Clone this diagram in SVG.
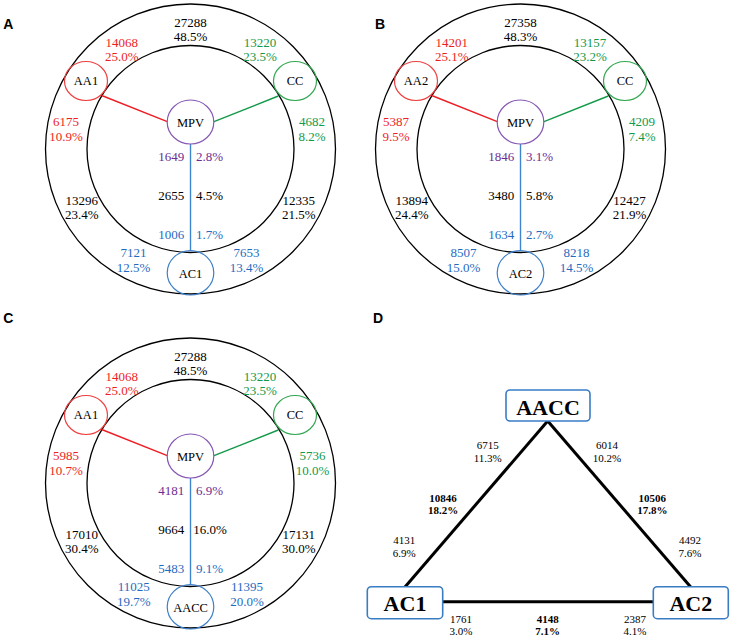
<svg xmlns="http://www.w3.org/2000/svg" width="732" height="639" viewBox="0 0 732 639">
<defs>
<style>
.ring{fill:none;stroke:#000;stroke-width:1.3}
.t{font-family:"Liberation Serif","Times New Roman",serif;font-size:13px;text-anchor:middle}
.s{text-anchor:start}
.e{text-anchor:end}
.lb{font-family:"Liberation Serif","Times New Roman",serif;font-size:12.5px;text-anchor:middle;fill:#000}
.pl{font-family:"Liberation Sans",Arial,sans-serif;font-size:14px;font-weight:bold;fill:#000}
.r{fill:#ee1d23}.g{fill:#13994a}.b{fill:#1f6bbf}.p{fill:#6c2d91}.k{fill:#000}
.nr{fill:none;stroke:#ee4040;stroke-width:1.2}
.ng{fill:none;stroke:#33a853;stroke-width:1.2}
.np{fill:none;stroke:#8657b5;stroke-width:1.2}
.nb{fill:none;stroke:#3d7fc8;stroke-width:1.2}
.box{fill:#fff;stroke:#3a7dc5;stroke-width:1.6}
.bt{font-family:"Liberation Serif","Times New Roman",serif;font-size:22px;font-weight:bold;text-anchor:middle;fill:#000}
.dt{font-family:"Liberation Serif","Times New Roman",serif;font-size:11px;text-anchor:middle;fill:#000}
.db{font-weight:bold}
.edge{stroke:#000;stroke-width:3;fill:none}
</style>
</defs>

<rect width="732" height="639" fill="#fff"/>

<!-- Panel labels -->
<text class="pl" x="3.3" y="29.3">A</text>
<text class="pl" x="375" y="29.3">B</text>
<text class="pl" x="3.3" y="322.7">C</text>
<text class="pl" x="373" y="322.7">D</text>

<!-- ===== Panel A ===== -->
<g id="panelA">
  <circle class="ring" cx="190.5" cy="149" r="145"/>
  <circle class="ring" cx="190.5" cy="149" r="103.5"/>
  <g id="A-connectors">
    <line x1="101.7" y1="95.5" x2="167.3" y2="121.7" stroke="#ee1d23" stroke-width="1.4"/>
    <line x1="214" y1="121.7" x2="278.3" y2="96" stroke="#13994a" stroke-width="1.4"/>
    <line x1="190.5" y1="144" x2="190.5" y2="250.7" stroke="#3d85d0" stroke-width="1.4"/>
  </g>
  <g id="A-AA1"><ellipse class="nr" cx="86" cy="81" rx="21.5" ry="19.5"/><text class="lb" x="86" y="85">AA1</text></g>
  <g id="A-CC"><ellipse class="ng" cx="295" cy="81" rx="21.5" ry="19.5"/><text class="lb" x="295" y="85">CC</text></g>
  <g id="A-MPV"><ellipse class="np" cx="190.5" cy="122" rx="23.3" ry="22"/><text class="lb" x="190.5" y="126.5">MPV</text></g>
  <g id="A-AC1"><ellipse class="nb" cx="190.5" cy="272.8" rx="23.3" ry="22.2"/><text class="lb" x="190.5" y="277.5">AC1</text></g>
  <g id="A-values">
    <text class="t k" x="190.5" y="26.5">27288</text><text class="t k" x="190.5" y="40.8">48.5%</text>
    <text class="t r" x="121.7" y="46.7">14068</text><text class="t r" x="121.7" y="61">25.0%</text>
    <text class="t g" x="260" y="46.7">13220</text><text class="t g" x="260" y="61">23.5%</text>
    <text class="t r" x="66" y="126.3">6175</text><text class="t r" x="66" y="140.6">10.9%</text>
    <text class="t g" x="312" y="126.3">4682</text><text class="t g" x="312" y="140.6">8.2%</text>
    <text class="t e p" x="184.3" y="160.7">1649</text><text class="t s p" x="196" y="160.7">2.8%</text>
    <text class="t e k" x="184.3" y="200">2655</text><text class="t s k" x="196" y="200">4.5%</text>
    <text class="t e b" x="184.3" y="239.3">1006</text><text class="t s b" x="196" y="239.3">1.7%</text>
    <text class="t k" x="81.7" y="205">13296</text><text class="t k" x="81.7" y="219.3">23.4%</text>
    <text class="t k" x="298.7" y="205">12335</text><text class="t k" x="298.7" y="219.3">21.5%</text>
    <text class="t b" x="133.5" y="257.3">7121</text><text class="t b" x="133.5" y="271.7">12.5%</text>
    <text class="t b" x="246.5" y="257.3">7653</text><text class="t b" x="246.5" y="271.7">13.4%</text>
  </g>
</g>

<!-- ===== Panel B ===== -->
<g id="panelB" transform="translate(330,0)">
  <circle class="ring" cx="190.5" cy="149" r="145"/>
  <circle class="ring" cx="190.5" cy="149" r="103.5"/>
  <g id="B-connectors">
    <line x1="101.7" y1="95.5" x2="167.3" y2="121.7" stroke="#ee1d23" stroke-width="1.4"/>
    <line x1="214" y1="121.7" x2="278.3" y2="96" stroke="#13994a" stroke-width="1.4"/>
    <line x1="190.5" y1="144" x2="190.5" y2="250.7" stroke="#3d85d0" stroke-width="1.4"/>
  </g>
  <g id="B-AA2"><ellipse class="nr" cx="86" cy="81" rx="21.5" ry="19.5"/><text class="lb" x="86" y="85">AA2</text></g>
  <g id="B-CC"><ellipse class="ng" cx="295" cy="81" rx="21.5" ry="19.5"/><text class="lb" x="295" y="85">CC</text></g>
  <g id="B-MPV"><ellipse class="np" cx="190.5" cy="122" rx="23.3" ry="22"/><text class="lb" x="190.5" y="126.5">MPV</text></g>
  <g id="B-AC2"><ellipse class="nb" cx="190.5" cy="272.8" rx="23.3" ry="22.2"/><text class="lb" x="190.5" y="277.5">AC2</text></g>
  <g id="B-values">
    <text class="t k" x="190.5" y="26.5">27358</text><text class="t k" x="190.5" y="40.8">48.3%</text>
    <text class="t r" x="121.7" y="46.7">14201</text><text class="t r" x="121.7" y="61">25.1%</text>
    <text class="t g" x="260" y="46.7">13157</text><text class="t g" x="260" y="61">23.2%</text>
    <text class="t r" x="66" y="126.3">5387</text><text class="t r" x="66" y="140.6">9.5%</text>
    <text class="t g" x="312" y="126.3">4209</text><text class="t g" x="312" y="140.6">7.4%</text>
    <text class="t e p" x="184.3" y="160.7">1846</text><text class="t s p" x="196" y="160.7">3.1%</text>
    <text class="t e k" x="184.3" y="200">3480</text><text class="t s k" x="196" y="200">5.8%</text>
    <text class="t e b" x="184.3" y="239.3">1634</text><text class="t s b" x="196" y="239.3">2.7%</text>
    <text class="t k" x="81.7" y="205">13894</text><text class="t k" x="81.7" y="219.3">24.4%</text>
    <text class="t k" x="299.5" y="205">12427</text><text class="t k" x="299.5" y="219.3">21.9%</text>
    <text class="t b" x="133.5" y="257.3">8507</text><text class="t b" x="133.5" y="271.7">15.0%</text>
    <text class="t b" x="246.5" y="257.3">8218</text><text class="t b" x="246.5" y="271.7">14.5%</text>
  </g>
</g>

<!-- ===== Panel C ===== -->
<g id="panelC" transform="translate(0,334)">
  <circle class="ring" cx="190.5" cy="149" r="145"/>
  <circle class="ring" cx="190.5" cy="149" r="103.5"/>
  <g id="C-connectors">
    <line x1="101.7" y1="95.5" x2="167.3" y2="121.7" stroke="#ee1d23" stroke-width="1.4"/>
    <line x1="214" y1="121.7" x2="278.3" y2="96" stroke="#13994a" stroke-width="1.4"/>
    <line x1="190.5" y1="144" x2="190.5" y2="250.7" stroke="#3d85d0" stroke-width="1.4"/>
  </g>
  <g id="C-AA1"><ellipse class="nr" cx="86" cy="81" rx="21.5" ry="19.5"/><text class="lb" x="86" y="85">AA1</text></g>
  <g id="C-CC"><ellipse class="ng" cx="295" cy="81" rx="21.5" ry="19.5"/><text class="lb" x="295" y="85">CC</text></g>
  <g id="C-MPV"><ellipse class="np" cx="190.5" cy="122" rx="23.3" ry="22"/><text class="lb" x="190.5" y="126.5">MPV</text></g>
  <g id="C-AACC"><ellipse class="nb" cx="190.5" cy="272.8" rx="23.3" ry="22.2"/><text class="lb" x="190.5" y="277.5">AACC</text></g>
  <g id="C-values">
    <text class="t k" x="190.5" y="26.5">27288</text><text class="t k" x="190.5" y="40.8">48.5%</text>
    <text class="t r" x="121.7" y="46.7">14068</text><text class="t r" x="121.7" y="61">25.0%</text>
    <text class="t g" x="260" y="46.7">13220</text><text class="t g" x="260" y="61">23.5%</text>
    <text class="t r" x="66" y="126.3">5985</text><text class="t r" x="66" y="140.6">10.7%</text>
    <text class="t g" x="312.5" y="126.3">5736</text><text class="t g" x="312.5" y="140.6">10.0%</text>
    <text class="t e p" x="184.3" y="160.7">4181</text><text class="t s p" x="196" y="160.7">6.9%</text>
    <text class="t e k" x="184.3" y="200">9664</text><text class="t s k" x="193.3" y="200">16.0%</text>
    <text class="t e b" x="184.3" y="239.3">5483</text><text class="t s b" x="196" y="239.3">9.1%</text>
    <text class="t k" x="81.7" y="205">17010</text><text class="t k" x="81.7" y="219.3">30.4%</text>
    <text class="t k" x="298.7" y="205">17131</text><text class="t k" x="298.7" y="219.3">30.0%</text>
    <text class="t b" x="133.8" y="257.3">11025</text><text class="t b" x="133.8" y="271.7">19.7%</text>
    <text class="t b" x="247" y="257.3">11395</text><text class="t b" x="247" y="271.7">20.0%</text>
  </g>
</g>

<!-- ===== Panel D ===== -->
<g id="panelD">
  <g id="D-connectors">
    <line class="edge" x1="547.7" y1="421" x2="405" y2="587"/>
    <line class="edge" x1="547.7" y1="421" x2="690.7" y2="587"/>
    <line class="edge" x1="442.7" y1="601.7" x2="653.3" y2="601.7"/>
  </g>
  <g id="D-AACC"><rect class="box" x="506" y="390" width="84" height="31" rx="4"/><text class="bt" x="548" y="415">AACC</text></g>
  <g id="D-AC1"><rect class="box" x="367.3" y="586.7" width="75.4" height="32" rx="4"/><text class="bt" x="405" y="611">AC1</text></g>
  <g id="D-AC2"><rect class="box" x="653.3" y="586.7" width="75" height="32" rx="4"/><text class="bt" x="690.8" y="611">AC2</text></g>
  <g id="D-values">
    <text class="dt" x="487.7" y="449.3">6715</text><text class="dt" x="487.7" y="462.3">11.3%</text>
    <text class="dt" x="607" y="449.3">6014</text><text class="dt" x="607" y="462.3">10.2%</text>
    <text class="dt db" x="443" y="501.7">10846</text><text class="dt db" x="443" y="514.3">18.2%</text>
    <text class="dt db" x="652.3" y="501.7">10506</text><text class="dt db" x="652.3" y="514.3">17.8%</text>
    <text class="dt" x="404.3" y="544">4131</text><text class="dt" x="404.3" y="557.3">6.9%</text>
    <text class="dt" x="690" y="544">4492</text><text class="dt" x="690" y="557.3">7.6%</text>
    <text class="dt" x="461" y="622.7">1761</text><text class="dt" x="461" y="635.3">3.0%</text>
    <text class="dt db" x="547.7" y="622.7">4148</text><text class="dt db" x="547.7" y="635.3">7.1%</text>
    <text class="dt" x="635" y="622.7">2387</text><text class="dt" x="635" y="635.3">4.1%</text>
  </g>
</g>
</svg>
